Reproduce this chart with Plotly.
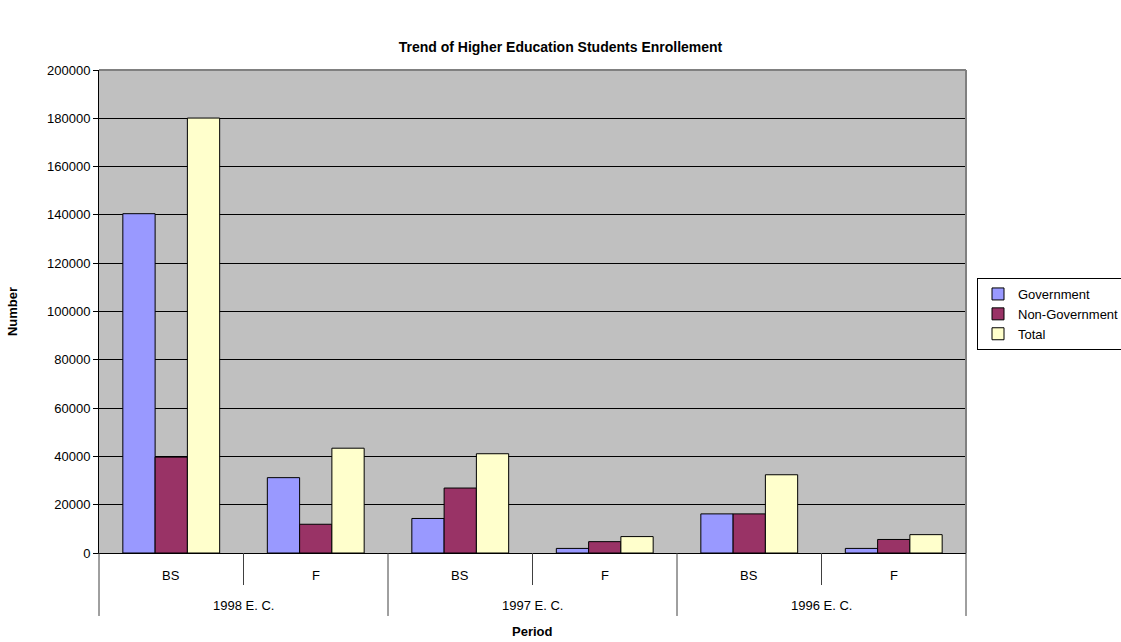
import plotly.graph_objects as go

periods = ["1998 E. C.", "1998 E. C.", "1997 E. C.", "1997 E. C.", "1996 E. C.", "1996 E. C."]
levels = ["BS", "F", "BS", "F", "BS", "F"]
government = [140500, 31200, 14300, 1900, 16200, 1900]
non_government = [39700, 11900, 26900, 4700, 16200, 5600]
total = [180100, 43400, 41100, 6800, 32400, 7600]

series = [
    ("Government", government, "#9999FF"),
    ("Non-Government", non_government, "#993366"),
    ("Total", total, "#FFFFCC"),
]

font_family = "Liberation Sans, Arial, sans-serif"
label_size = 13

fig = go.Figure()
for name, vals, color in series:
    fig.add_trace(go.Bar(
        x=[periods, levels], y=vals, name=name,
        marker=dict(color=color, line=dict(color="black", width=1)),
    ))

n = len(levels)
shapes = []
# plot-area border (top and right, grey)
shapes.append(dict(type="line", xref="paper", yref="paper", x0=0, x1=1, y0=1, y1=1,
                   line=dict(color="#808080", width=2), layer="above"))
shapes.append(dict(type="line", xref="paper", yref="paper", x0=1, x1=1, y0=0, y1=1,
                   line=dict(color="#808080", width=2), layer="above"))
# table-like separators on the category axis
for k in range(n + 1):
    long_line = (k % 2 == 0)
    shapes.append(dict(
        type="line", xref="paper", yref="paper",
        x0=k / n, x1=k / n, y0=0, y1=(-0.1304 if long_line else -0.0663),
        line=dict(color="#404040", width=1),
    ))

annotations = []
for k, lab in enumerate(levels):
    annotations.append(dict(text=lab, xref="paper", yref="paper", x=(k + 0.5) / n, y=-0.0476,
                            showarrow=False, xanchor="center", yanchor="middle",
                            font=dict(size=label_size)))
groups = []
for p in periods:
    if p not in groups:
        groups.append(p)
for g_i, g in enumerate(groups):
    annotations.append(dict(text=g, xref="paper", yref="paper", x=(g_i + 0.5) / len(groups), y=-0.1097,
                            showarrow=False, xanchor="center", yanchor="middle",
                            font=dict(size=label_size)))
annotations.append(dict(text="<b>Period</b>", xref="paper", yref="paper", x=0.5, y=-0.1615,
                        showarrow=False, xanchor="center", yanchor="middle", font=dict(size=label_size)))

fig.update_layout(
    width=1121, height=642,
    margin=dict(l=99, r=155, t=70, b=89, autoexpand=False),
    paper_bgcolor="white",
    plot_bgcolor="#C0C0C0",
    barmode="group",
    bargap=0.33,
    bargroupgap=0,
    font=dict(family=font_family, size=label_size, color="black"),
    title=dict(
        text="<b>Trend of Higher Education Students Enrollement</b>",
        x=0.5, xref="container", xanchor="center",
        y=1 - 47 / 642, yref="container", yanchor="middle",
        font=dict(size=14, family=font_family),
    ),
    legend=dict(
        x=(977 - 99) / 867, xanchor="left", y=(553 - 278) / 483, yanchor="top",
        bordercolor="black", borderwidth=1,
        font=dict(size=13, family=font_family),
        tracegroupgap=0, itemwidth=30,
    ),
    shapes=shapes,
    annotations=annotations,
    showlegend=True,
)

fig.update_yaxes(
    range=[0, 200000], dtick=20000, tickformat="d",
    showgrid=True, gridcolor="black", gridwidth=1,
    showline=True, linecolor="black", linewidth=1,
    ticks="outside", ticklen=5, tickcolor="black",
    tickfont=dict(size=label_size),
    zeroline=False,
    title=dict(text="<b>Number</b>", font=dict(size=label_size), standoff=26),
)
fig.update_xaxes(
    type="multicategory",
    showline=True, linecolor="black", linewidth=1,
    showdividers=False, showticklabels=False,
    ticks="",
)

fig.write_html("out.html")
